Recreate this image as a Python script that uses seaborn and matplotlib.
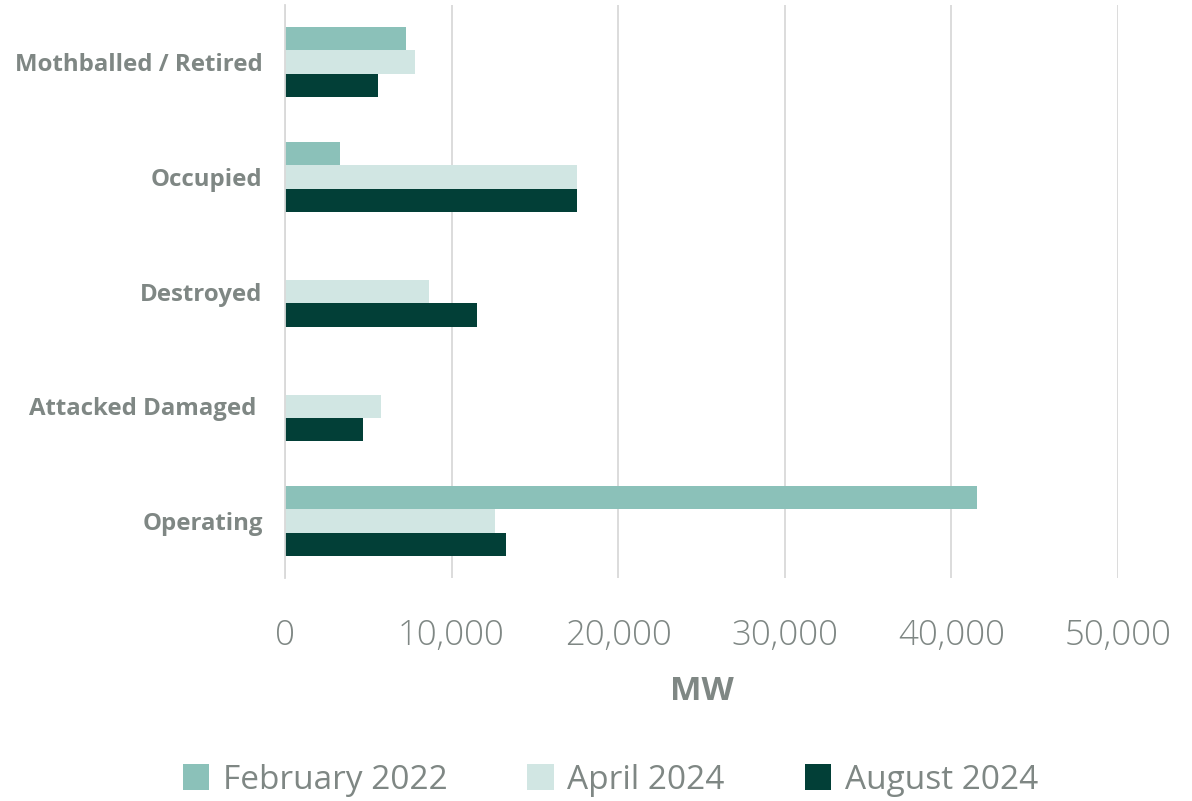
import pandas as pd
import matplotlib.pyplot as plt
import seaborn as sns

# Data (MW)
categories = ["Mothballed / Retired", "Occupied", "Destroyed", "Attacked Damaged ", "Operating"]
periods = ["February 2022", "April 2024", "August 2024"]
feb_2022 = [7260, 3300, 0, 0, 41540]
apr_2024 = [7800, 17530, 8640, 5760, 12600]
aug_2024 = [5580, 17530, 11520, 4680, 13270]
xticks = [0, 10000, 20000, 30000, 40000, 50000]

colors = ["#8BC1B9", "#D1E6E3", "#023F37"]
text_gray = "#7F8784"

df = pd.DataFrame({
    "category": categories * 3,
    "period": [periods[0]] * 5 + [periods[1]] * 5 + [periods[2]] * 5,
    "MW": feb_2022 + apr_2024 + aug_2024,
})

sns.set_style("white")
plt.rcParams["font.family"] = ["Open Sans", "DejaVu Sans"]

fig = plt.figure(figsize=(11.92, 8.01), dpi=100)
ax = fig.add_axes([0.239, 0.278, 0.699, 0.716])

sns.barplot(data=df, y="category", x="MW", hue="period", order=categories,
            hue_order=periods, palette=colors, orient="h", width=0.61,
            saturation=1, errorbar=None, linewidth=0, ax=ax, legend=True)

ax.set_xlim(0, 50000)
ax.set_xticks(xticks)
ax.set_xticklabels([f"{v:,}" for v in xticks], fontsize=25, color=text_gray,
                   fontweight="light")
ax.tick_params(axis="both", length=0)
ax.tick_params(axis="x", pad=29)
ax.tick_params(axis="y", pad=16)
for lab in ax.get_yticklabels():
    lab.set_fontsize(17.3)
    lab.set_fontweight("bold")
    lab.set_color(text_gray)

ax.xaxis.grid(True, color="#D9D9D9", linewidth=1.3)
ax.set_axisbelow(True)
for s in ["top", "right", "bottom"]:
    ax.spines[s].set_visible(False)
ax.spines["left"].set_color("#D9D9D9")
ax.spines["left"].set_linewidth(1.3)

ax.set_ylabel("")
ax.set_xlabel("MW", fontsize=24, fontweight="bold", color=text_gray, labelpad=16)

handles, labels = ax.get_legend_handles_labels()
ax.legend_.remove()
fig.legend(handles, labels, loc="center", bbox_to_anchor=(0.512, 0.026), ncol=3,
           frameon=False, fontsize=24, labelcolor=text_gray, handlelength=0.8,
           handleheight=0.8, handletextpad=0.4, columnspacing=2.4)

fig.savefig("out.png", dpi=100)
